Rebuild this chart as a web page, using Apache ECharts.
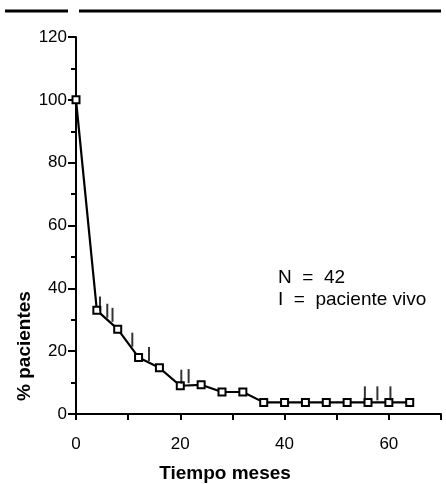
<!DOCTYPE html>
<html>
<head>
<meta charset="utf-8">
<script src="https://cdn.jsdelivr.net/npm/echarts@6/dist/echarts.min.js"></script>
<style>html,body{margin:0;padding:0;background:#fff;}#c{width:446px;height:484px;}</style>
</head>
<body>
<div id="c"></div>
<script>
// Data
var months = [0, 4, 8, 12, 16, 20, 24, 28, 32, 36, 40, 44, 48, 52, 56, 60, 64];
var survival = [100, 33, 27, 18, 14.7, 9, 9.3, 7, 7, 3.7, 3.7, 3.7, 3.7, 3.7, 3.7, 3.7, 3.7];
var censorMonths = [4.6, 6, 7, 10.8, 14, 20.2, 21.6, 55.4, 57.8, 60.3];
var censorValues = [32.3, 30, 28.7, 20.8, 16.2, 9, 9.2, 3.7, 3.7, 3.7];
var xTickLabels = ['0', '20', '40', '60'];
var yTickLabels = ['0', '20', '40', '60', '80', '100', '120'];
var xTitle = 'Tiempo meses';
var yTitle = '% pacientes';
var noteLines = ['N  =  42', 'I  =  paciente vivo'];

var FONT = 'Liberation Sans, Arial, Helvetica, sans-serif';
var chart = echarts.init(document.getElementById('c'));
var lineData = months.map(function (m, i) { return [m, survival[i]]; });
var censorData = censorMonths.map(function (m, i) { return [m, censorValues[i]]; });

chart.setOption({
  animation: false,
  backgroundColor: '#fff',
  grid: { left: 76, right: 5, top: 37, bottom: 70, containLabel: false },
  xAxis: {
    type: 'value', min: 0, max: 70, interval: 10,
    axisLine: { show: true, onZero: false, lineStyle: { color: '#000', width: 2 } },
    axisTick: { show: true, length: 6, lineStyle: { color: '#000', width: 2 } },
    splitLine: { show: false },
    axisLabel: {
      color: '#000', fontSize: 17, fontFamily: FONT, margin: 22,
      formatter: function (v) { var s = String(v); return xTickLabels.indexOf(s) >= 0 ? s : ''; }
    }
  },
  yAxis: {
    type: 'value', min: 0, max: 120, interval: 20,
    axisLine: { show: true, lineStyle: { color: '#000', width: 2 } },
    axisTick: { show: true, length: 8, lineStyle: { color: '#000', width: 2 } },
    minorTick: { show: true, splitNumber: 2, length: 5, lineStyle: { color: '#000', width: 2 } },
    splitLine: { show: false },
    axisLabel: {
      color: '#000', fontSize: 17, fontFamily: FONT, margin: 9,
      formatter: function (v) { var s = String(v); return yTickLabels.indexOf(s) >= 0 ? s : ''; }
    }
  },
  series: [
    {
      type: 'line', data: lineData, z: 3,
      lineStyle: { color: '#000', width: 2.2 },
      symbol: 'rect', symbolSize: 7, showAllSymbol: true,
      itemStyle: { color: '#fff', borderColor: '#000', borderWidth: 2 }
    },
    {
      type: 'scatter', data: censorData, z: 4,
      symbol: 'rect', symbolSize: [2, 14], symbolOffset: [0, -9],
      itemStyle: { color: '#000' }
    }
  ],
  graphic: [
    { type: 'line', shape: { x1: 5, y1: 11, x2: 68, y2: 11 }, style: { stroke: '#000', lineWidth: 3 } },
    { type: 'line', shape: { x1: 79, y1: 11, x2: 441, y2: 11 }, style: { stroke: '#000', lineWidth: 3 } },
    { type: 'text', x: 225, y: 474, style: { text: xTitle, font: 'bold 19px ' + FONT, fill: '#000', textAlign: 'center', textVerticalAlign: 'middle' } },
    { type: 'text', x: 25, y: 346, rotation: Math.PI / 2, style: { text: yTitle, font: 'bold 19px ' + FONT, fill: '#000', textAlign: 'center', textVerticalAlign: 'middle' } },
    { type: 'text', x: 278, y: 278, style: { text: noteLines[0], font: '19px ' + FONT, fill: '#000', textAlign: 'left', textVerticalAlign: 'middle' } },
    { type: 'text', x: 278, y: 300, style: { text: noteLines[1], font: '19px ' + FONT, fill: '#000', textAlign: 'left', textVerticalAlign: 'middle' } }
  ]
});
</script>
</body>
</html>
